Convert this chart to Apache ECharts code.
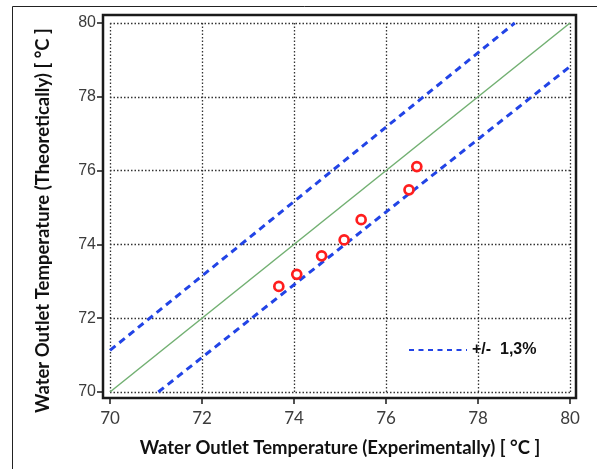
<!DOCTYPE html>
<html>
<head>
<meta charset="utf-8">
<script src="https://cdn.jsdelivr.net/npm/echarts@6/dist/echarts.min.js"></script>
<style>
html,body{margin:0;padding:0;background:#fff;}
#chart{width:597px;height:469px;}
</style>
</head>
<body>
<div id="chart"></div>
<script>
// Data
var expTemp = [73.67, 74.06, 74.60, 75.09, 75.46, 76.50, 76.67];
var theoTemp = [72.86, 73.19, 73.69, 74.12, 74.67, 75.48, 76.11];
var perfectLine = [[70, 70], [80, 80]];
var upperBand = [[70, 71.13], [78.8, 80]];
var lowerBand = [[71.05, 70], [80, 78.82]];
var axisMin = 70, axisMax = 80, axisStep = 2;
var bandName = '+/-  1,3%';
var xTitle = 'Water Outlet Temperature (Experimentally) [ °C ]';
var yTitle = 'Water Outlet Temperature (Theoretically) [ °C ]';

var points = expTemp.map(function (x, i) { return [x, theoTemp[i]]; });

var chart = echarts.init(document.getElementById('chart'), null, {renderer: 'canvas'});
var gridLine = {show: true, lineStyle: {color: '#333', width: 1.3, type: [1.5, 2]}};
var bandStyle = {color: '#2244e6', width: 3, type: [7, 5]};

chart.setOption({
  animation: false,
  backgroundColor: '#fff',
  graphic: [
    {type: 'line', shape: {x1: 12.5, y1: 6.5, x2: 597, y2: 6.5}, style: {stroke: '#222', lineWidth: 1}},
    {type: 'line', shape: {x1: 12.5, y1: 6.5, x2: 12.5, y2: 469}, style: {stroke: '#222', lineWidth: 1}}
  ],
  grid: [
    {left: 110, right: 27, top: 23, bottom: 77},
    {left: 103, right: 21, top: 15, bottom: 71, show: true, borderColor: '#1a1a1a', borderWidth: 2.5, backgroundColor: 'transparent', z: 5}
  ],
  legend: {
    left: 403, top: 337,
    itemWidth: 58, itemHeight: 16, itemGap: 5,
    data: [bandName],
    itemStyle: {opacity: 0},
    lineStyle: {width: 2, type: [5, 4.5]},
    textStyle: {fontFamily: 'Liberation Sans', fontWeight: 'bold', fontSize: 16, color: '#111'}
  },
  xAxis: [{
    type: 'value', min: axisMin, max: axisMax, interval: axisStep,
    offset: 6,
    name: xTitle, nameLocation: 'middle', nameGap: 41,
    nameTextStyle: {fontFamily: 'Lato', fontWeight: 'bold', fontSize: 18.5, color: '#111'},
    axisLine: {show: false},
    axisTick: {show: true, length: 6, lineStyle: {color: '#1a1a1a', width: 1.5}},
    axisLabel: {margin: 12, fontFamily: 'Lato', fontSize: 17, color: '#3c3c3c'},
    splitLine: gridLine
  }, {
    gridIndex: 1, type: 'value', min: 0, max: 1, show: false
  }],
  yAxis: [{
    type: 'value', min: axisMin, max: axisMax, interval: axisStep,
    offset: 7,
    name: yTitle, nameLocation: 'middle', nameGap: 50,
    nameTextStyle: {fontFamily: 'Lato', fontWeight: 'bold', fontSize: 18.5, color: '#111', padding: [0, 26, 0, 0]},
    axisLine: {show: false},
    axisTick: {show: true, length: 6, lineStyle: {color: '#1a1a1a', width: 1.5}},
    axisLabel: {margin: 7, fontFamily: 'Liberation Sans', fontSize: 16, color: '#3c3c3c'},
    splitLine: gridLine
  }, {
    gridIndex: 1, type: 'value', min: 0, max: 1, show: false
  }],
  series: [
    {
      type: 'line', name: 'ideal', data: perfectLine, symbol: 'none',
      lineStyle: {color: '#72b072', width: 1.5}, z: 3
    },
    {
      type: 'line', name: bandName, data: upperBand, symbol: 'none',
      itemStyle: {color: '#2244e6'}, lineStyle: bandStyle, z: 3
    },
    {
      type: 'line', name: bandName, data: lowerBand, symbol: 'none',
      itemStyle: {color: '#2244e6'}, lineStyle: bandStyle, z: 3
    },
    {
      type: 'scatter', name: 'points', data: points, symbol: 'circle', symbolSize: 9,
      itemStyle: {color: '#fff', borderColor: '#ff1e1e', borderWidth: 2.7, opacity: 1}, z: 4
    }
  ]
});
</script>
</body>
</html>
